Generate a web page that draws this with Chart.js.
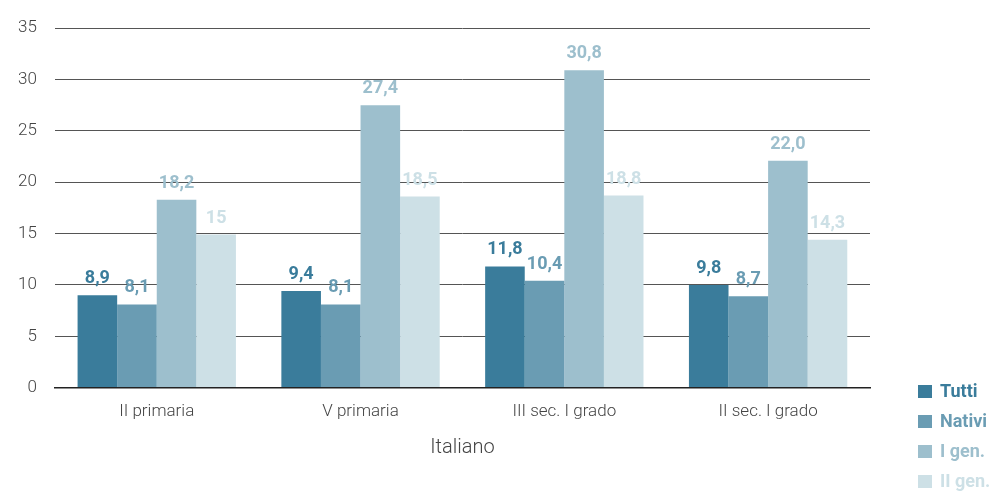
<!DOCTYPE html>
<html lang="it">
<head>
<meta charset="utf-8">
<title>Italiano</title>
<script src="https://cdn.jsdelivr.net/npm/chart.js@4.4.1/dist/chart.umd.min.js"></script>
<style>
  html, body { margin: 0; padding: 0; background: #fff; overflow: hidden; }
  #wrap { position: relative; width: 995px; height: 492px; }
  #legend { position: absolute; left: 918px; top: 382px; font: bold 18px Roboto, sans-serif; }
  #legend div { height: 30px; line-height: 18px; white-space: nowrap; }
  #legend span.box { display: inline-block; width: 14px; height: 13px; margin-right: 8px; vertical-align: -1px; }
</style>
</head>
<body>
<div id="wrap">
  <canvas id="chart" width="995" height="492"></canvas>
  <div id="legend"></div>
</div>
<script>
// categories and series
const categories = ['II primaria', 'V primaria', 'III sec. I grado', 'II sec. I grado'];
const seriesNames = ['Tutti', 'Nativi', 'I gen.', 'II gen.'];
const seriesColors = ['#3a7c9b', '#6a9cb3', '#9dbfcd', '#cde0e6'];

const tutti  = [9.0, 9.4, 11.8, 10.0];
const nativi = [8.1, 8.1, 10.4, 8.9];
const gen1   = [18.3, 27.5, 30.9, 22.1];
const gen2   = [14.9, 18.6, 18.7, 14.4];

// labels as printed on the bars
const tuttiLabels  = ['8,9', '9,4', '11,8', '9,8'];
const nativiLabels = ['8,1', '8,1', '10,4', '8,7'];
const gen1Labels   = ['18,2', '27,4', '30,8', '22,0'];
const gen2Labels   = ['15', '18,5', '18,8', '14,3'];

const yTicks = [0, 5, 10, 15, 20, 25, 30, 35];

const seriesValues = [tutti, nativi, gen1, gen2];
const seriesLabels = [tuttiLabels, nativiLabels, gen1Labels, gen2Labels];

// draws the value text above each bar
const barLabels = {
    id: 'barLabels',
    afterDatasetsDraw(chart) {
        const ctx = chart.ctx;
        ctx.save();
        ctx.font = 'bold 18px Roboto, sans-serif';
        ctx.textAlign = 'center';
        ctx.textBaseline = 'alphabetic';
        chart.data.datasets.forEach((ds, i) => {
            const meta = chart.getDatasetMeta(i);
            ctx.fillStyle = ds.backgroundColor;
            meta.data.forEach((bar, j) => {
                ctx.fillText(ds.valueLabels[j], bar.x, bar.y - 12);
            });
        });
        ctx.restore();
    }
};

const tickFont = { family: 'Roboto', size: 17, weight: 300 };

const ctx = document.getElementById('chart').getContext('2d');

const chart = new Chart(ctx, {
    type: 'bar',
    data: {
        labels: categories,
        datasets: seriesNames.map((name, i) => ({
            label: name,
            data: seriesValues[i],
            valueLabels: seriesLabels[i],
            backgroundColor: seriesColors[i],
            borderWidth: 0,
            categoryPercentage: 0.777,
            barPercentage: 1
        }))
    },
    options: {
        responsive: false,
        animation: false,
        layout: { padding: { left: 0, right: 125, top: 20, bottom: 32 } },
        plugins: {
            legend: { display: false },
            tooltip: { enabled: false }
        },
        scales: {
            x: {
                grid: { display: false, drawTicks: false },
                border: { color: '#222', width: 1.5 },
                ticks: { color: '#444', font: tickFont, padding: 14 },
                title: { display: true, text: 'Italiano', color: '#444', font: { family: 'Roboto', size: 20, weight: 300 }, padding: { top: 0, bottom: 0 } }
            },
            y: {
                min: 0,
                max: 35,
                afterBuildTicks: s => { s.ticks = yTicks.map(v => ({ value: v })); },
                grid: { color: '#555', lineWidth: 1, drawTicks: false },
                border: { display: false },
                ticks: { color: '#444', font: tickFont, padding: 18 }
            }
        }
    },
    plugins: [barLabels]
});

// html legend built from the datasets
const legendEl = document.getElementById('legend');
chart.data.datasets.forEach(ds => {
    const row = document.createElement('div');
    row.style.color = ds.backgroundColor;
    row.innerHTML = '<span class="box" style="background:' + ds.backgroundColor + '"></span>' + ds.label;
    legendEl.appendChild(row);
});
</script>
</body>
</html>
